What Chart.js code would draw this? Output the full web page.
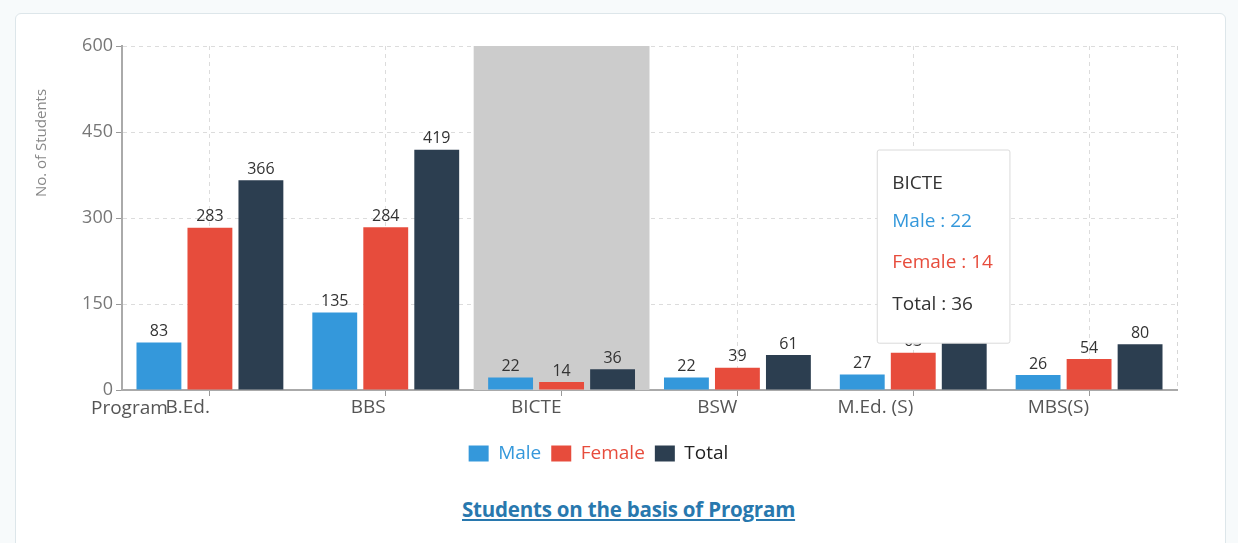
<!DOCTYPE html>
<html>
<head>
<meta charset="utf-8">
<script src="https://cdn.jsdelivr.net/npm/chart.js@4.4.0/dist/chart.umd.min.js"></script>
<style>
  html, body { margin: 0; padding: 0; background: #f7fafb; }
  body { width: 1238px; height: 543px; position: relative; overflow: hidden; font-family: "Open Sans", sans-serif; }
  .card { position: absolute; left: 15px; top: 13px; width: 1211px; height: 545px; background: #fff;
          border: 1px solid #dde6ea; border-radius: 6px; box-sizing: border-box; }
  #wrap { position: absolute; left: 0; top: 0; width: 1238px; height: 480px; }
  .caption { position: absolute; left: 462px; top: 495px; font: bold 20.5px "Open Sans", sans-serif;
             color: #2878ae; text-decoration: underline; white-space: nowrap; letter-spacing: -0.2px; }
</style>
</head>
<body>
<div class="card"></div>
<div id="wrap"><canvas id="programChart"></canvas></div>
<div class="caption">Students on the basis of Program</div>
<script>
var programs = ['B.Ed.', 'BBS', 'BICTE', 'BSW', 'M.Ed. (S)', 'MBS(S)'];
var maleCounts = [83, 135, 22, 22, 27, 26];
var femaleCounts = [283, 284, 14, 39, 65, 54];
var totalCounts = [366, 419, 36, 61, 92, 80];
var yTicks = [0, 150, 300, 450, 600];
var hoveredIndex = 2; // BICTE is hovered in the picture

var FONT = '"Open Sans", sans-serif';
var colors = { male: '#3498db', female: '#e74c3c', total: '#2c3e50' };

// tooltip sits near the M.Ed. column, like in the screenshot
Chart.Tooltip.positioners.fixedBox = function() {
    var ch = this.chart;
    return { x: ch.scales.x.getPixelForValue(4) - 34, y: ch.chartArea.top + 104 };
};

var extras = {
    id: 'extras',
    beforeDatasetsDraw: function(chart) {
        var ctx = chart.ctx, a = chart.chartArea, xs = chart.scales.x;
        var w = (a.right - a.left) / programs.length;
        var cx = xs.getPixelForValue(hoveredIndex);
        ctx.save();
        // hover band
        ctx.fillStyle = '#cccccc';
        ctx.fillRect(cx - w / 2, a.top, w, a.bottom - a.top);
        // dashed right frame
        ctx.strokeStyle = '#d6d6d6';
        ctx.lineWidth = 1;
        ctx.setLineDash([4, 4]);
        ctx.beginPath();
        ctx.moveTo(a.right + 0.5, a.top);
        ctx.lineTo(a.right + 0.5, a.bottom);
        ctx.stroke();
        ctx.restore();
    },
    afterDatasetsDraw: function(chart) {
        var ctx = chart.ctx, a = chart.chartArea;
        ctx.save();
        ctx.font = '16px ' + FONT;
        ctx.fillStyle = '#333';
        ctx.textAlign = 'center';
        ctx.textBaseline = 'bottom';
        chart.data.datasets.forEach(function(ds, di) {
            chart.getDatasetMeta(di).data.forEach(function(bar, i) {
                ctx.fillText(ds.data[i], bar.x, bar.y - 3);
            });
        });
        // axis titles
        ctx.fillStyle = '#888';
        ctx.font = '15px ' + FONT;
        ctx.textBaseline = 'middle';
        ctx.save();
        ctx.translate(42, a.top + 97);
        ctx.rotate(-Math.PI / 2);
        ctx.fillText('No. of Students', 0, 0);
        ctx.restore();
        ctx.fillStyle = '#555';
        ctx.font = '19px ' + FONT;
        ctx.textAlign = 'left';
        ctx.fillText('Program', 91, a.bottom + 19);
        ctx.restore();
    }
};

var ctx = document.getElementById('programChart').getContext('2d');
var myChart = new Chart(ctx, {
    type: 'bar',
    data: {
        labels: programs,
        datasets: [
            { label: 'Male', data: maleCounts, backgroundColor: colors.male },
            { label: 'Female', data: femaleCounts, backgroundColor: colors.female },
            { label: 'Total', data: totalCounts, backgroundColor: colors.total }
        ]
    },
    options: {
        responsive: true,
        maintainAspectRatio: false,
        animation: false,
        events: [],
        layout: { padding: { left: 20, right: 61, top: 46, bottom: 7 } },
        datasets: { bar: { barPercentage: 0.88, categoryPercentage: 0.87 } },
        scales: {
            x: {
                grid: { offset: false, color: '#dcdcdc', tickColor: '#999', tickLength: 6 },
                border: { color: '#aaa', width: 2, dash: [4, 4] },
                ticks: { color: '#555', font: { family: FONT, size: 19 }, padding: 0, align: 'end' },
                afterFit: function(scale) { scale.height = 44; }
            },
            y: {
                min: 0,
                max: 600,
                afterBuildTicks: function(scale) {
                    scale.ticks = yTicks.map(function(v) { return { value: v }; });
                },
                grid: { color: '#dcdcdc', tickColor: '#999', tickLength: 6 },
                border: { color: '#aaa', width: 2, dash: [4, 4] },
                ticks: { color: '#777', font: { family: FONT, size: 18 }, padding: 3 },
                afterFit: function(scale) { scale.width = 102; }
            }
        },
        plugins: {
            legend: {
                position: 'bottom',
                labels: {
                    boxWidth: 20,
                    boxHeight: 16,
                    padding: 10,
                    font: { family: FONT, size: 19 },
                    generateLabels: function(chart) {
                        var items = Chart.defaults.plugins.legend.labels.generateLabels(chart);
                        items.forEach(function(it) {
                            it.fontColor = it.text === 'Total' ? '#222' : it.fillStyle;
                            it.lineWidth = 0;
                        });
                        return items;
                    }
                }
            },
            tooltip: {
                position: 'fixedBox',
                mode: 'index',
                intersect: false,
                xAlign: 'left',
                yAlign: 'top',
                caretSize: 0,
                caretPadding: 0,
                backgroundColor: '#fff',
                borderColor: '#dadada',
                borderWidth: 1,
                cornerRadius: 2,
                displayColors: false,
                padding: { left: 15, right: 17, top: 22, bottom: 27 },
                titleColor: '#333',
                titleFont: { family: FONT, size: 19, weight: 'normal' },
                titleMarginBottom: 15,
                bodyFont: { family: FONT, size: 19 },
                bodySpacing: 19,
                callbacks: {
                    title: function(items) { return items[0].label; },
                    label: function(c) { return c.dataset.label + ' : ' + c.parsed.y; },
                    labelTextColor: function(c) {
                        return c.datasetIndex === 2 ? '#333' : c.dataset.backgroundColor;
                    }
                }
            }
        }
    },
    plugins: [extras]
});

myChart.tooltip.setActiveElements([
    { datasetIndex: 0, index: hoveredIndex },
    { datasetIndex: 1, index: hoveredIndex },
    { datasetIndex: 2, index: hoveredIndex }
], { x: 0, y: 0 });
myChart.update();
</script>
</body>
</html>
